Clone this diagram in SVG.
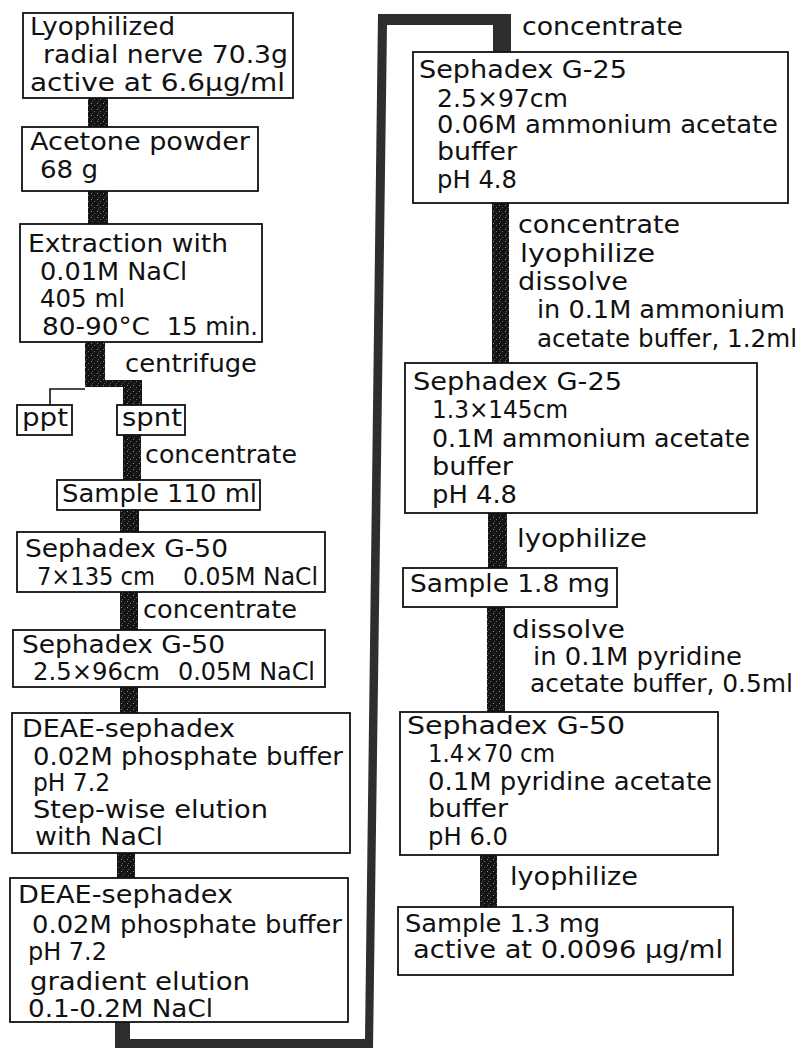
<svg xmlns="http://www.w3.org/2000/svg" width="805" height="1049" viewBox="0 0 805 1049">
<style>
.box{fill:#fff;stroke:#111;stroke-width:1.8}
.t{font-family:"DejaVu Sans","Liberation Sans",sans-serif;font-size:24px;fill:#111}
.bar{fill:url(#stip)}
.loop{fill:#2e2e2e}
.thin{fill:none;stroke:#111;stroke-width:1.6}
</style>
<defs>
<pattern id="stip" width="6" height="6" patternUnits="userSpaceOnUse">
<rect width="6" height="6" fill="#141414"/>
<rect x="1" y="1" width="1" height="1" fill="#8a8a8a"/>
<rect x="4" y="3" width="1" height="1" fill="#6a6a6a"/>
<rect x="2" y="5" width="1" height="1" fill="#555"/>
</pattern>
</defs>

<g id="connectors">
<rect class="bar" x="88" y="97" width="20" height="31"/>
<rect class="bar" x="88" y="190" width="20" height="35"/>
<path class="bar" d="M85 341 H105 V380 H142 V406 H123 V387 H85 Z"/>
<polyline class="thin" points="85,389 50,389 50,405"/>
<rect class="bar" x="123" y="434" width="18" height="47"/>
<rect class="bar" x="120" y="509" width="19" height="24"/>
<rect class="bar" x="120" y="591" width="18" height="40"/>
<rect class="bar" x="120" y="686" width="18" height="28"/>
<rect class="bar" x="117" y="852" width="18" height="27"/>
<path class="loop" d="M115 1021 V1048 H373 L387 25 H493 V53 H511 V14 H378 L365 1039 H130 V1021 Z"/>
<rect class="bar" x="492" y="202" width="17" height="162"/>
<rect class="bar" x="488" y="512" width="19" height="57"/>
<rect class="bar" x="487" y="606" width="18" height="107"/>
<rect class="bar" x="480" y="854" width="17" height="54"/>
</g>

<g id="n1"><rect class="box" x="23" y="13" width="270" height="85"/>
<text class="t" x="30" y="35" textLength="145" lengthAdjust="spacingAndGlyphs">Lyophilized</text>
<text class="t" x="43" y="63" textLength="245" lengthAdjust="spacingAndGlyphs">radial nerve 70.3g</text>
<text class="t" x="30" y="91" textLength="255" lengthAdjust="spacingAndGlyphs">active at 6.6μg/ml</text></g>

<g id="n2"><rect class="box" x="22" y="127" width="236" height="64"/>
<text class="t" x="30" y="150" textLength="220" lengthAdjust="spacingAndGlyphs">Acetone powder</text>
<text class="t" x="40" y="178" textLength="58" lengthAdjust="spacingAndGlyphs">68 g</text></g>

<g id="n3"><rect class="box" x="20" y="224" width="242" height="118"/>
<text class="t" x="28" y="252" textLength="200" lengthAdjust="spacingAndGlyphs">Extraction with</text>
<text class="t" x="40" y="280" textLength="147" lengthAdjust="spacingAndGlyphs">0.01M NaCl</text>
<text class="t" x="40" y="307" textLength="85" lengthAdjust="spacingAndGlyphs">405 ml</text>
<text class="t" x="42" y="335" textLength="108" lengthAdjust="spacingAndGlyphs">80-90°C</text>
<text class="t" x="167" y="335" textLength="91" lengthAdjust="spacingAndGlyphs">15 min.</text></g>

<g id="lbl-centrifuge"><text class="t" x="125" y="372" textLength="132" lengthAdjust="spacingAndGlyphs">centrifuge</text></g>

<g id="n-ppt"><rect class="box" x="17" y="405" width="55" height="30"/>
<text class="t" x="22" y="426" textLength="46" lengthAdjust="spacingAndGlyphs">ppt</text></g>

<g id="n-spnt"><rect class="box" x="117" y="405" width="68" height="30"/>
<text class="t" x="122" y="426" textLength="60" lengthAdjust="spacingAndGlyphs">spnt</text></g>

<g id="lbl-conc1"><text class="t" x="145" y="463" textLength="152" lengthAdjust="spacingAndGlyphs">concentrate</text></g>

<g id="n4"><rect class="box" x="57" y="480" width="203" height="30"/>
<text class="t" x="62" y="502" textLength="195" lengthAdjust="spacingAndGlyphs">Sample 110 ml</text></g>

<g id="n5"><rect class="box" x="17" y="532" width="308" height="60"/>
<text class="t" x="25" y="557" textLength="203" lengthAdjust="spacingAndGlyphs">Sephadex G-50</text>
<text class="t" x="37" y="585" textLength="118" lengthAdjust="spacingAndGlyphs">7×135 cm</text>
<text class="t" x="183" y="585" textLength="135" lengthAdjust="spacingAndGlyphs">0.05M NaCl</text></g>

<g id="lbl-conc2"><text class="t" x="143" y="618" textLength="154" lengthAdjust="spacingAndGlyphs">concentrate</text></g>

<g id="n6"><rect class="box" x="13" y="630" width="312" height="57"/>
<text class="t" x="22" y="653" textLength="203" lengthAdjust="spacingAndGlyphs">Sephadex G-50</text>
<text class="t" x="33" y="680" textLength="127" lengthAdjust="spacingAndGlyphs">2.5×96cm</text>
<text class="t" x="178" y="680" textLength="137" lengthAdjust="spacingAndGlyphs">0.05M NaCl</text></g>

<g id="n7"><rect class="box" x="12" y="713" width="338" height="140"/>
<text class="t" x="22" y="737" textLength="213" lengthAdjust="spacingAndGlyphs">DEAE-sephadex</text>
<text class="t" x="33" y="765" textLength="310" lengthAdjust="spacingAndGlyphs">0.02M phosphate buffer</text>
<text class="t" x="33" y="791" textLength="77" lengthAdjust="spacingAndGlyphs">pH 7.2</text>
<text class="t" x="33" y="818" textLength="235" lengthAdjust="spacingAndGlyphs">Step-wise elution</text>
<text class="t" x="35" y="845" textLength="128" lengthAdjust="spacingAndGlyphs">with NaCl</text></g>

<g id="n8"><rect class="box" x="10" y="878" width="338" height="144"/>
<text class="t" x="18" y="903" textLength="215" lengthAdjust="spacingAndGlyphs">DEAE-sephadex</text>
<text class="t" x="32" y="933" textLength="310" lengthAdjust="spacingAndGlyphs">0.02M phosphate buffer</text>
<text class="t" x="28" y="960" textLength="79" lengthAdjust="spacingAndGlyphs">pH 7.2</text>
<text class="t" x="30" y="990" textLength="220" lengthAdjust="spacingAndGlyphs">gradient elution</text>
<text class="t" x="28" y="1017" textLength="185" lengthAdjust="spacingAndGlyphs">0.1-0.2M NaCl</text></g>

<g id="lbl-conc3"><text class="t" x="522" y="35" textLength="161" lengthAdjust="spacingAndGlyphs">concentrate</text></g>

<g id="n9"><rect class="box" x="413" y="52" width="375" height="151"/>
<text class="t" x="419" y="78" textLength="208" lengthAdjust="spacingAndGlyphs">Sephadex G-25</text>
<text class="t" x="437" y="107" textLength="131" lengthAdjust="spacingAndGlyphs">2.5×97cm</text>
<text class="t" x="437" y="133" textLength="341" lengthAdjust="spacingAndGlyphs">0.06M ammonium acetate</text>
<text class="t" x="437" y="160" textLength="80" lengthAdjust="spacingAndGlyphs">buffer</text>
<text class="t" x="437" y="188" textLength="80" lengthAdjust="spacingAndGlyphs">pH 4.8</text></g>

<g id="lbl-steps1">
<text class="t" x="518" y="233" textLength="162" lengthAdjust="spacingAndGlyphs">concentrate</text>
<text class="t" x="520" y="262" textLength="135" lengthAdjust="spacingAndGlyphs">lyophilize</text>
<text class="t" x="518" y="290" textLength="110" lengthAdjust="spacingAndGlyphs">dissolve</text>
<text class="t" x="537" y="318" textLength="248" lengthAdjust="spacingAndGlyphs">in 0.1M ammonium</text>
<text class="t" x="537" y="347" textLength="260" lengthAdjust="spacingAndGlyphs">acetate buffer, 1.2ml</text></g>

<g id="n10"><rect class="box" x="405" y="363" width="352" height="150"/>
<text class="t" x="413" y="390" textLength="209" lengthAdjust="spacingAndGlyphs">Sephadex G-25</text>
<text class="t" x="432" y="418" textLength="136" lengthAdjust="spacingAndGlyphs">1.3×145cm</text>
<text class="t" x="432" y="447" textLength="318" lengthAdjust="spacingAndGlyphs">0.1M ammonium acetate</text>
<text class="t" x="432" y="475" textLength="81" lengthAdjust="spacingAndGlyphs">buffer</text>
<text class="t" x="432" y="503" textLength="85" lengthAdjust="spacingAndGlyphs">pH 4.8</text></g>

<g id="lbl-lyo1"><text class="t" x="517" y="547" textLength="130" lengthAdjust="spacingAndGlyphs">lyophilize</text></g>

<g id="n11"><rect class="box" x="403" y="568" width="214" height="39"/>
<text class="t" x="410" y="592" textLength="200" lengthAdjust="spacingAndGlyphs">Sample 1.8 mg</text></g>

<g id="lbl-steps2">
<text class="t" x="512" y="638" textLength="113" lengthAdjust="spacingAndGlyphs">dissolve</text>
<text class="t" x="533" y="665" textLength="209" lengthAdjust="spacingAndGlyphs">in 0.1M pyridine</text>
<text class="t" x="530" y="692" textLength="263" lengthAdjust="spacingAndGlyphs">acetate buffer, 0.5ml</text></g>

<g id="n12"><rect class="box" x="400" y="712" width="318" height="143"/>
<text class="t" x="407" y="734" textLength="218" lengthAdjust="spacingAndGlyphs">Sephadex  G-50</text>
<text class="t" x="428" y="762" textLength="127" lengthAdjust="spacingAndGlyphs">1.4×70 cm</text>
<text class="t" x="428" y="790" textLength="284" lengthAdjust="spacingAndGlyphs">0.1M pyridine acetate</text>
<text class="t" x="428" y="817" textLength="80" lengthAdjust="spacingAndGlyphs">buffer</text>
<text class="t" x="428" y="845" textLength="80" lengthAdjust="spacingAndGlyphs">pH 6.0</text></g>

<g id="lbl-lyo2"><text class="t" x="510" y="885" textLength="128" lengthAdjust="spacingAndGlyphs">lyophilize</text></g>

<g id="n13"><rect class="box" x="398" y="907" width="335" height="68"/>
<text class="t" x="405" y="932" textLength="195" lengthAdjust="spacingAndGlyphs">Sample 1.3 mg</text>
<text class="t" x="413" y="958" textLength="310" lengthAdjust="spacingAndGlyphs">active at 0.0096 μg/ml</text></g>
</svg>
